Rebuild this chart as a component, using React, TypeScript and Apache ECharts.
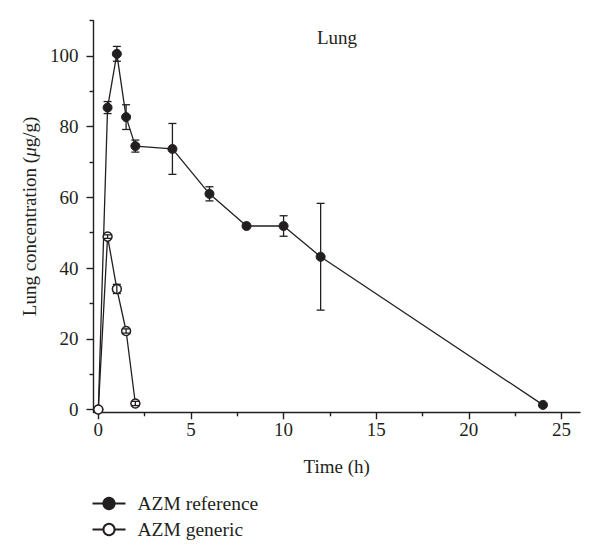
import React, { useEffect, useRef } from "react";
import * as echarts from "echarts";

const timeRef = [0, 0.5, 1, 1.5, 2, 4, 6, 8, 10, 12, 24];
const azmRef = [0, 85.4, 100.6, 82.7, 74.5, 73.7, 61.0, 51.9, 51.9, 43.2, 1.3];
const azmRefErr = [0, 1.7, 2.1, 3.5, 1.7, 7.2, 2.0, 0, 2.9, 15.1, 0];

const timeGen = [0, 0.5, 1, 1.5, 2];
const azmGen = [0, 48.9, 34.1, 22.2, 1.7];
const azmGenErr = [0, 0.5, 1.3, 0.6, 0.6];

const xMajorTicks = [0, 5, 10, 15, 20, 25];
const xMinorTicks = [2.5, 7.5, 12.5, 17.5, 22.5];
const yMajorTicks = [0, 20, 40, 60, 80, 100];
const yMinorTicks = [10, 30, 50, 70, 90, 110];

const FONT = "'Liberation Serif', 'Times New Roman', serif";
const INK = "#231f20";

function errorRender(params: any, api: any) {
  const x = api.value(0);
  const y = api.value(1);
  const e = api.value(2);
  if (!e) return null;
  const top = api.coord([x, y + e]);
  const bot = api.coord([x, y - e]);
  const hw = 4;
  const style = { stroke: INK, lineWidth: 1.3 };
  return {
    type: "group",
    children: [
      { type: "line", shape: { x1: top[0], y1: top[1], x2: bot[0], y2: bot[1] }, style },
      { type: "line", shape: { x1: top[0] - hw, y1: top[1], x2: top[0] + hw, y2: top[1] }, style },
      { type: "line", shape: { x1: bot[0] - hw, y1: bot[1], x2: bot[0] + hw, y2: bot[1] }, style },
    ],
  };
}

export default function App() {
  const ref = useRef<HTMLDivElement>(null);
  useEffect(() => {
    if (!ref.current) return;
    const chart = echarts.init(ref.current, null, { renderer: "svg" });
    const refData = timeRef.map((t, i) => [t, azmRef[i]]);
    const genData = timeGen.map((t, i) => [t, azmGen[i]]);
    const refErr = timeRef.map((t, i) => [t, azmRef[i], azmRefErr[i]]);
    const genErr = timeGen.map((t, i) => [t, azmGen[i], azmGenErr[i]]);
    const axisLineStyle = { color: INK, width: 1.4 };
    chart.setOption({
      animation: false,
      backgroundColor: "#ffffff",
      textStyle: { fontFamily: FONT, color: INK },
      grid: { left: 93.5, right: 20, top: 20.6, bottom: 147.7, outerBoundsMode: "none" },
      graphic: [
        {
          type: "text",
          x: 337,
          y: 37,
          style: {
            text: "Lung",
            fontFamily: FONT,
            fontSize: 19,
            fill: INK,
            textAlign: "center",
            textVerticalAlign: "middle",
          },
        },
      ],
      legend: {
        orient: "vertical",
        left: 86.5,
        top: 488.5,
        padding: 5,
        itemWidth: 33,
        itemHeight: 14,
        itemGap: 6,
        data: ["AZM reference", "AZM generic"],
        textStyle: { fontFamily: FONT, fontSize: 19.5, color: INK, lineHeight: 19, padding: [0, 0, 0, 7] },
      },
      xAxis: [
        {
          type: "value",
          min: -0.26,
          max: 26,
          name: "Time (h)",
          nameLocation: "middle",
          nameGap: 45,
          nameTextStyle: { fontFamily: FONT, fontSize: 19, color: INK },
          axisLine: { show: true, onZero: false, lineStyle: axisLineStyle },
          axisTick: { show: true, length: 7, customValues: xMajorTicks, lineStyle: axisLineStyle },
          axisLabel: { customValues: xMajorTicks, fontFamily: FONT, fontSize: 19, color: INK, margin: 8 },
          splitLine: { show: false },
        },
        {
          type: "value",
          position: "bottom",
          min: -0.26,
          max: 26,
          axisLine: { show: false, onZero: false },
          axisTick: { show: true, length: 4, customValues: xMinorTicks, lineStyle: axisLineStyle },
          axisLabel: { show: false },
          splitLine: { show: false },
        },
      ],
      yAxis: [
        {
          type: "value",
          min: -0.8,
          max: 110,
          name: "Lung concentration ({i|μ}g/g)",
          nameLocation: "middle",
          nameGap: 51,
          nameTextStyle: {
            fontFamily: FONT,
            fontSize: 19,
            color: INK,
            rich: { i: { fontFamily: FONT, fontSize: 19, fontStyle: "italic", color: INK } },
          },
          axisLine: { show: true, onZero: false, lineStyle: axisLineStyle },
          axisTick: { show: true, length: 7, customValues: yMajorTicks, lineStyle: axisLineStyle },
          axisLabel: { customValues: yMajorTicks, fontFamily: FONT, fontSize: 19, color: INK, margin: 15 },
          splitLine: { show: false },
        },
        {
          type: "value",
          position: "left",
          min: -0.8,
          max: 110,
          axisLine: { show: false, onZero: false },
          axisTick: { show: true, length: 4, customValues: yMinorTicks, lineStyle: axisLineStyle },
          axisLabel: { show: false },
          splitLine: { show: false },
        },
      ],
      series: [
        {
          name: "AZM reference",
          type: "line",
          data: refData,
          symbol: "circle",
          symbolSize: 9,
          clip: false,
          z: 2,
          lineStyle: { color: INK, width: 1.3 },
          itemStyle: { color: INK, borderColor: INK, borderWidth: 1 },
          emphasis: { disabled: true },
        },
        {
          name: "AZM generic",
          type: "line",
          data: genData,
          symbol: "circle",
          symbolSize: 9,
          clip: false,
          z: 3,
          lineStyle: { color: INK, width: 1.3 },
          itemStyle: { color: "#ffffff", borderColor: INK, borderWidth: 1.5 },
          emphasis: { disabled: true },
        },
        {
          name: "refErr",
          type: "custom",
          data: refErr,
          renderItem: errorRender,
          clip: false,
          z: 4,
        },
        {
          name: "genErr",
          type: "custom",
          data: genErr,
          renderItem: errorRender,
          clip: false,
          z: 4,
        },
      ],
    });
    return () => chart.dispose();
  }, []);
  return (
    <div
      ref={ref}
      style={{ position: "fixed", left: 0, top: 0, width: 600, height: 560, background: "#fff" }}
    />
  );
}
